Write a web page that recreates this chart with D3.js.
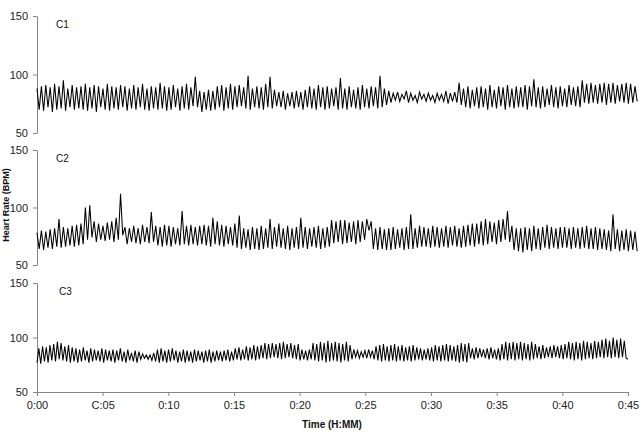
<!DOCTYPE html>
<html>
<head>
<meta charset="utf-8">
<script src="https://cdn.jsdelivr.net/npm/d3@7"></script>
<style>
  body { margin: 0; background: #fff; }
  svg { display: block; font-family: "Liberation Sans", Arial, sans-serif; }
  .axis path, .axis line { stroke: #868686; }
  .axis text { fill: #222; font-size: 11px; }
  .trace { fill: none; stroke: #000; stroke-width: 1.05; }
</style>
</head>
<body>
<div id="chart"></div>
<script>
// heart rate samples (BPM), evenly spaced in time
const c1 = [
  88,70,90,69,91,72,89,68,92,70,90,71,95,69,88,72,91,70,89,71,
  90,70,92,69,89,71,91,68,90,72,88,70,92,69,90,71,89,70,91,72,
  90,69,88,71,91,70,89,72,92,70,88,69,90,71,89,70,93,71,90,69,
  89,70,91,72,88,69,90,71,92,70,89,73,98,72,86,68,85,70,87,69,
  86,70,90,72,91,69,89,71,92,70,90,72,91,73,89,71,99,70,88,72,
  90,71,89,70,92,72,98,71,87,73,85,72,86,70,84,73,85,71,86,72,
  85,70,87,72,90,71,88,70,91,72,89,70,90,71,88,73,89,70,97,71,
  88,70,90,72,87,71,89,70,91,72,88,71,90,73,89,71,99,72,88,74,
  86,76,84,78,85,77,83,79,86,76,84,78,82,76,85,79,83,77,84,78,
  82,76,84,78,83,77,86,75,84,77,85,76,93,74,88,72,90,71,87,73,
  89,71,90,72,88,70,91,72,87,71,90,73,89,70,91,72,88,71,90,72,
  89,72,91,70,90,73,96,72,89,71,90,72,88,74,91,72,89,71,90,73,
  88,72,91,74,89,73,90,72,95,76,92,75,93,76,91,75,92,76,93,74,
  92,76,93,75,91,77,92,76,93,75,92,76,90,77
];

const c2 = [
  78,64,80,63,79,65,81,64,82,66,90,65,83,66,82,67,84,66,85,67,
  86,68,100,72,102,74,88,70,86,72,84,71,87,72,88,70,91,72,112,76,
  83,68,82,70,84,69,82,68,85,70,83,69,96,70,84,67,83,66,85,67,
  84,66,83,68,82,67,97,68,84,67,85,68,83,67,84,68,85,67,84,66,
  91,68,88,67,85,66,84,68,83,67,86,65,93,64,82,65,81,63,83,64,
  82,63,84,64,82,65,90,64,83,66,86,65,82,64,84,63,82,65,83,64,
  91,65,83,64,82,66,83,65,84,64,82,65,83,66,89,69,88,70,89,68,
  89,69,87,70,88,68,89,70,88,72,90,80,88,64,82,63,83,64,81,63,
  82,63,83,64,81,65,82,63,83,64,94,64,82,65,84,66,83,66,82,65,
  84,66,83,65,82,66,84,65,83,67,84,66,82,65,84,66,85,67,86,66,
  86,68,88,67,90,68,88,70,87,68,89,70,90,72,97,70,84,63,82,62,
  82,61,83,63,82,62,84,64,82,63,83,65,85,64,83,65,82,64,83,65,
  83,65,82,64,83,65,82,64,83,65,84,64,82,64,83,63,82,64,81,63,
  80,62,94,64,81,62,80,63,81,62,80,63,79,62
];

const c3 = [
  77,90,76,92,78,91,77,93,79,94,78,96,80,95,79,92,78,93,77,91,
  78,90,77,89,78,91,79,88,77,90,78,89,79,88,78,90,77,89,79,88,
  78,89,77,88,79,90,78,87,77,89,79,86,78,88,77,87,80,85,81,84,
  80,84,79,86,78,89,77,90,78,88,77,89,78,90,79,88,77,87,78,89,
  77,88,78,87,77,89,78,88,79,87,77,88,78,89,77,87,78,88,79,87,
  78,88,79,89,78,87,79,90,80,91,79,89,80,92,79,91,80,93,79,92,
  80,93,81,95,80,94,81,95,82,94,81,95,80,96,81,94,82,95,81,93,
  80,94,79,89,80,88,79,89,80,95,79,94,78,96,79,95,77,97,78,95,
  79,96,78,95,77,94,79,96,78,93,80,89,82,88,81,87,82,88,81,89,
  82,88,80,92,79,93,78,94,79,92,78,93,79,94,78,92,79,93,78,91,
  79,92,78,93,79,91,80,90,79,89,80,90,79,91,78,93,79,92,78,93,
  79,94,78,93,79,92,78,93,77,95,78,94,77,95,81,90,80,91,81,90,
  82,89,81,90,80,91,81,89,80,90,79,94,80,96,79,95,80,96,79,95,
  80,96,79,95,80,94,79,96,80,94,81,92,80,93,81,91,82,92,81,93,
  82,92,81,93,80,94,81,96,80,95,79,96,80,95,79,97,80,96,81,95,
  80,97,81,96,82,98,81,99,82,97,81,100,82,98,81,99,82,97,81,80
];

const seriesNames = ["C1", "C2", "C3"];
const seriesEnd = [45.7, 45.7, 45.0];   // minutes covered by each recording
const yTicks = [50, 100, 150];
const xTicks = [0, 5, 10, 15, 20, 25, 30, 35, 40, 45];
const xTickLabels = ["0:00", "C:05", "0:10", "0:15", "0:20", "0:25", "0:30", "0:35", "0:40", "0:45"];

const width = 644, height = 438;
const svg = d3.select("#chart").append("svg")
  .attr("width", width)
  .attr("height", height);

const x = d3.scaleLinear().domain([0, 45]).range([37, 628]);

// panel vertical extents (top = 150, bottom = 50)
const panels = [
  { top: 16, bottom: 133 },
  { top: 150, bottom: 265 },
  { top: 283, bottom: 392 }
];

const allSeries = [c1, c2, c3];

allSeries.forEach((vals, p) => {
  const y = d3.scaleLinear().domain([50, 150]).range([panels[p].bottom, panels[p].top]);
  const g = svg.append("g");

  g.append("g")
    .attr("class", "axis")
    .attr("transform", "translate(" + x(0) + ",0)")
    .call(d3.axisLeft(y).tickValues(yTicks).tickSize(4).tickSizeOuter(0))
    .call(a => a.selectAll("text").attr("dx", "-2"));

  const step = seriesEnd[p] / (vals.length - 1);
  const line = d3.line()
    .x((d, i) => x(i * step))
    .y(d => y(d));

  g.append("path")
    .datum(vals)
    .attr("class", "trace")
    .attr("d", line);

  g.append("text")
    .text(seriesNames[p])
    .attr("x", x(0) + (p == 2 ? 22 : 19))
    .attr("y", panels[p].top + 12)
    .attr("font-size", 10)
    .attr("fill", "#111");
});

// time axis only under the last panel
svg.append("g")
  .attr("class", "axis")
  .attr("transform", "translate(0," + panels[2].bottom + ")")
  .call(d3.axisBottom(x).tickValues(xTicks).tickSize(4).tickSizeOuter(0)
    .tickFormat((d, i) => xTickLabels[i]))
  .call(a => a.selectAll("text").attr("dy", "0.9em"));

svg.append("text")
  .text("Time (H:MM)")
  .attr("x", 332)
  .attr("y", 428)
  .attr("text-anchor", "middle")
  .attr("font-weight", "bold")
  .attr("font-size", 10)
  .attr("fill", "#111");

svg.append("text")
  .text("Heart Rate (BPM)")
  .attr("transform", "translate(9,205) rotate(-90)")
  .attr("text-anchor", "middle")
  .attr("font-weight", "bold")
  .attr("font-size", 9)
  .attr("fill", "#111");
</script>
</body>
</html>
